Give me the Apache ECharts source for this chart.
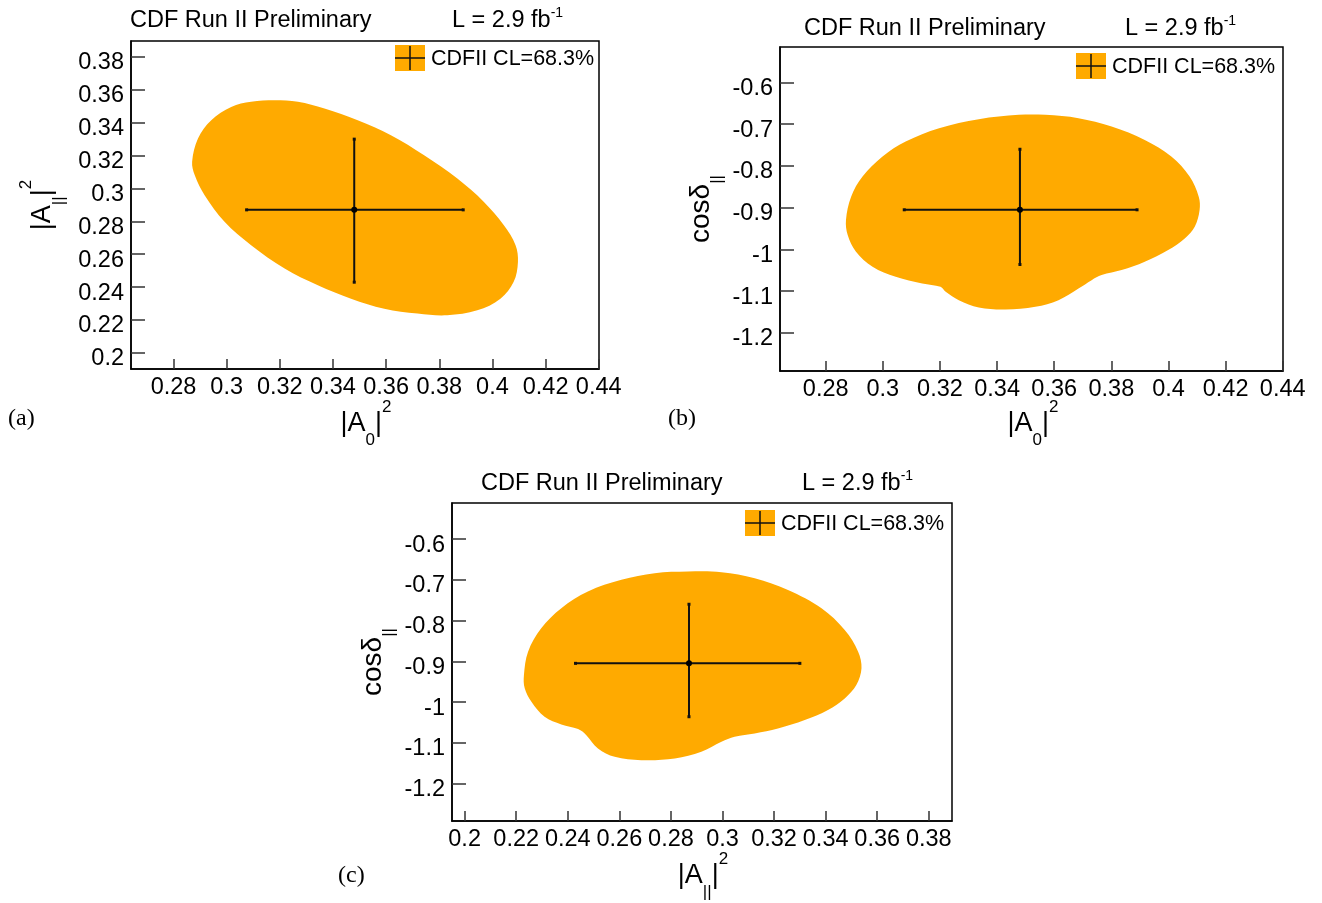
<!DOCTYPE html>
<html>
<head>
<meta charset="utf-8">
<title>CDF Run II Preliminary – 68.3% CL contours</title>
<script src="https://cdn.jsdelivr.net/npm/echarts@6/dist/echarts.min.js"></script>
<style>
  html, body { margin: 0; padding: 0; background: #fff; }
  #chart { width: 1322px; height: 903px; }
</style>
</head>
<body>
<div id="chart"></div>
<script>
// ---- 68.3% CL contour outlines (closed, clockwise) ----
// (a) |A_0|^2 vs |A_par|^2
const contourA_x = [0.2870, 0.2892, 0.2942, 0.3017, 0.3092, 0.3180, 0.3268, 0.3368, 0.3493, 0.3618, 0.3743, 0.3868, 0.3968, 0.4043, 0.4087, 0.4096, 0.4080, 0.4030, 0.3943, 0.3830, 0.3718, 0.3593, 0.3468, 0.3343, 0.3218, 0.3092, 0.2992, 0.2917, 0.2880];
const contourA_y = [0.3162, 0.3304, 0.3415, 0.3496, 0.3527, 0.3537, 0.3527, 0.3486, 0.3415, 0.3324, 0.3202, 0.3060, 0.2918, 0.2776, 0.2655, 0.2553, 0.2432, 0.2330, 0.2259, 0.2229, 0.2239, 0.2269, 0.2330, 0.2411, 0.2513, 0.2655, 0.2797, 0.2959, 0.3080];
// (b) |A_0|^2 vs cos(delta_par)
const contourB_x = [0.2871, 0.2889, 0.2929, 0.2999, 0.3080, 0.3197, 0.3336, 0.3476, 0.3569, 0.3685, 0.3801, 0.3917, 0.4010, 0.4074, 0.4106, 0.4109, 0.4092, 0.4057, 0.3999, 0.3917, 0.3836, 0.3766, 0.3731, 0.3685, 0.3615, 0.3534, 0.3429, 0.3336, 0.3266, 0.3220, 0.3202, 0.3138, 0.3045, 0.2964, 0.2906, 0.2877];
const contourB_y = [-0.9295, -0.8735, -0.8255, -0.7775, -0.7415, -0.7095, -0.6879, -0.6775, -0.6775, -0.6855, -0.7055, -0.7375, -0.7775, -0.8255, -0.8735, -0.9055, -0.9455, -0.9735, -1.0015, -1.0295, -1.0495, -1.0615, -1.0735, -1.0935, -1.1215, -1.1375, -1.1439, -1.1391, -1.1215, -1.1015, -1.0895, -1.0815, -1.0655, -1.0415, -1.0055, -0.9655];
// (c) |A_par|^2 vs cos(delta_par)
const contourC_x = [0.2230, 0.2246, 0.2297, 0.2375, 0.2478, 0.2608, 0.2737, 0.2866, 0.2996, 0.3125, 0.3254, 0.3384, 0.3474, 0.3526, 0.3539, 0.3519, 0.3474, 0.3409, 0.3319, 0.3215, 0.3125, 0.3047, 0.2996, 0.2918, 0.2815, 0.2685, 0.2582, 0.2517, 0.2472, 0.2440, 0.2375, 0.2310, 0.2259, 0.2233];
const contourC_y = [-0.9337, -0.8763, -0.8189, -0.7697, -0.7288, -0.7001, -0.6837, -0.6796, -0.6812, -0.6960, -0.7247, -0.7697, -0.8230, -0.8763, -0.9173, -0.9583, -0.9910, -1.0197, -1.0443, -1.0648, -1.0771, -1.0853, -1.0976, -1.1222, -1.1386, -1.1427, -1.1345, -1.1140, -1.0812, -1.0664, -1.0550, -1.0361, -0.9992, -0.9664];

// ---- best-fit values with 1-sigma intervals: [central, low, high] ----
const fitA0sq   = [0.348, 0.3075, 0.389];
const fitAparsq = [0.287, 0.243, 0.330];
const fitCosPar = [-0.905, -1.036, -0.760];

// ---- tick labels ----
const ticksA0sq   = [0.28, 0.3, 0.32, 0.34, 0.36, 0.38, 0.4, 0.42, 0.44];
const ticksAparA  = [0.2, 0.22, 0.24, 0.26, 0.28, 0.3, 0.32, 0.34, 0.36, 0.38];
const ticksAparC  = [0.2, 0.22, 0.24, 0.26, 0.28, 0.3, 0.32, 0.34, 0.36, 0.38];
const ticksCos    = [-1.2, -1.1, -1, -0.9, -0.8, -0.7, -0.6];

const titleLeft  = 'CDF Run II Preliminary';
const legendText = 'CDFII CL=68.3%';

const ORANGE = '#FFAA00';
const SANS = '"Liberation Sans", Arial, Helvetica, sans-serif';
const SERIF = '"Liberation Serif", "DejaVu Serif", serif';

const chart = echarts.init(document.getElementById('chart'), null, { renderer: 'canvas' });

function grid(left, top, width, height) {
  return {
    left, top, width, height,
    show: true, borderColor: '#000', borderWidth: 1.5, backgroundColor: 'transparent',
    outerBoundsMode: 'none', containLabel: false
  };
}

function axis(gridIndex, min, max, ticks, isX) {
  const label = { show: true, customValues: ticks, color: '#000', fontSize: 23.5,
                  fontFamily: SANS, margin: 7 };
  if (!isX) {
    // y labels sit slightly below their tick
    label.verticalAlign = 'top';
    label.lineHeight = 12;
  }
  return {
    type: 'value', gridIndex, min, max,
    axisLine: { show: true, onZero: false, lineStyle: { color: '#000', width: 1.5 } },
    axisTick: { show: true, inside: true, length: isX ? 10 : 14, customValues: ticks,
                lineStyle: { color: '#333', width: 1.5 } },
    axisLabel: label,
    splitLine: { show: false },
    minorTick: { show: false }
  };
}

function contour(idx, xs, ys) {
  return {
    type: 'custom', xAxisIndex: idx, yAxisIndex: idx,
    data: xs.map((x, i) => [x, ys[i]]),
    silent: true, z: 1,
    renderItem(params, api) {
      if (params.dataIndex !== 0) return null;
      const pts = xs.map((x, i) => api.coord([x, ys[i]]));
      return { type: 'polygon', shape: { points: pts, smooth: 0.35 }, style: { fill: ORANGE } };
    }
  };
}

function cross(idx, fx, fy) {
  return {
    type: 'custom', xAxisIndex: idx, yAxisIndex: idx,
    data: [[fx[0], fy[0], fx[1], fx[2], fy[1], fy[2]]],
    encode: { x: [0, 2, 3], y: [1, 4, 5] },
    silent: true, z: 3,
    renderItem(params, api) {
      const c  = api.coord([api.value(0), api.value(1)]);
      const xl = api.coord([api.value(2), api.value(1)]);
      const xh = api.coord([api.value(3), api.value(1)]);
      const yl = api.coord([api.value(0), api.value(4)]);
      const yh = api.coord([api.value(0), api.value(5)]);
      const ls = { stroke: '#111', lineWidth: 2 };
      const cap = (p) => ({ type: 'rect', shape: { x: p[0] - 1.5, y: p[1] - 1.5, width: 3, height: 3 }, style: { fill: '#111' } });
      return {
        type: 'group',
        children: [
          { type: 'line', shape: { x1: xl[0], y1: xl[1], x2: xh[0], y2: xh[1] }, style: ls },
          { type: 'line', shape: { x1: yl[0], y1: yl[1], x2: yh[0], y2: yh[1] }, style: ls },
          cap(xl), cap(xh), cap(yl), cap(yh),
          { type: 'circle', shape: { cx: c[0], cy: c[1], r: 3 }, style: { fill: '#000' } }
        ]
      };
    }
  };
}

// rich-text styles for axis titles with sub/superscripts
const titleRich = {
  m: { fontSize: 27, lineHeight: 50, fontFamily: SANS, color: '#000' },
  s: { fontSize: 17, lineHeight: 17, verticalAlign: 'bottom', fontFamily: SANS, color: '#000' },
  p: { fontSize: 17, lineHeight: 30, verticalAlign: 'top', fontFamily: SANS, color: '#000' },
  c: { fontSize: 28, lineHeight: 50, fontFamily: SANS, color: '#000' }
};
const labelA0   = '{m||A}{s|0}{m||}{p|2}';
const labelApar = '{m||A}{s|||}{m||}{p|2}';
const labelCos  = '{c|cosδ}{s|||}';

function axisTitle(x, y, text, vertical) {
  return {
    type: 'text', x, y, rotation: vertical ? Math.PI / 2 : 0, z: 10,
    style: { text, rich: titleRich, align: 'center', verticalAlign: 'middle' }
  };
}

function header(x1, x2, y) {
  return [
    { type: 'text', x: x1, y, z: 10,
      style: { text: titleLeft, fontSize: 23.5, fontFamily: SANS, fill: '#000', align: 'left', verticalAlign: 'middle' } },
    { type: 'text', x: x2, y, z: 10,
      style: { text: '{n|L = 2.9 fb}{u|-1}', align: 'left', verticalAlign: 'middle',
               rich: { n: { fontSize: 23.5, lineHeight: 30, fontFamily: SANS, color: '#000' },
                       u: { fontSize: 14, lineHeight: 30, verticalAlign: 'top', fontFamily: SANS, color: '#000' } } } }
  ];
}

function legendBox(x, y) {
  const w = 30, h = 26;
  return {
    type: 'group', x, y, z: 10,
    children: [
      { type: 'rect', shape: { x: 0, y: 0, width: w, height: h }, style: { fill: ORANGE } },
      { type: 'line', shape: { x1: 0, y1: h / 2, x2: w, y2: h / 2 }, style: { stroke: '#111', lineWidth: 1.5 } },
      { type: 'line', shape: { x1: w / 2, y1: 1, x2: w / 2, y2: h - 1 }, style: { stroke: '#111', lineWidth: 1.5 } },
      { type: 'text', x: w + 6, y: h / 2 + 1,
        style: { text: legendText, fontSize: 21.5, fontFamily: SANS, fill: '#000', align: 'left', verticalAlign: 'middle' } }
    ]
  };
}

function panelTag(x, y, text) {
  return { type: 'text', x, y, z: 10,
           style: { text, fontSize: 24, fontFamily: SERIF, fill: '#000', align: 'left', verticalAlign: 'middle' } };
}

const option = {
  backgroundColor: '#fff',
  animation: false,
  textStyle: { fontFamily: SANS },
  grid: [
    grid(131, 41, 468, 328),
    grid(780, 47, 503, 324),
    grid(452, 503, 500, 318)
  ],
  xAxis: [
    axis(0, 0.2640, 0.4401, ticksA0sq, true),
    axis(1, 0.2640, 0.4401, ticksA0sq, true),
    axis(2, 0.1951, 0.3890, ticksAparC, true)
  ],
  yAxis: [
    axis(0, 0.1902, 0.3897, ticksAparA, false),
    axis(1, -1.2912, -0.5150, ticksCos, false),
    axis(2, -1.2919, -0.5115, ticksCos, false)
  ],
  series: [
    contour(0, contourA_x, contourA_y),
    contour(1, contourB_x, contourB_y),
    contour(2, contourC_x, contourC_y),
    cross(0, fitA0sq, fitAparsq),
    cross(1, fitA0sq, fitCosPar),
    cross(2, fitAparsq, fitCosPar)
  ],
  graphic: [
    ...header(130, 452, 21),
    ...header(804, 1125, 29),
    ...header(481, 802, 484),
    legendBox(395, 45),
    legendBox(1076, 53),
    legendBox(745, 510),
    axisTitle(366, 424, labelA0, false),
    axisTitle(43, 205, labelApar, true),
    axisTitle(1033, 424, labelA0, false),
    axisTitle(701, 209, labelCos, true),
    axisTitle(703, 876, labelApar, false),
    axisTitle(373, 662, labelCos, true),
    panelTag(8, 419, '(a)'),
    panelTag(668, 419, '(b)'),
    panelTag(338, 876, '(c)')
  ]
};

chart.setOption(option);
</script>
</body>
</html>
